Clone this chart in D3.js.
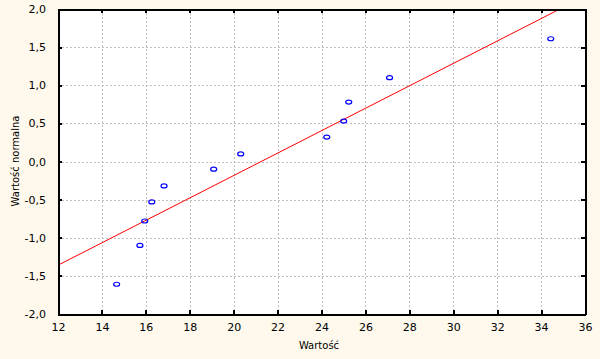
<!DOCTYPE html>
<html><head><meta charset="utf-8">
<script src="https://cdn.jsdelivr.net/npm/d3@7"></script>
<style>
html,body{margin:0;padding:0;background:#fef9ec;}
svg{display:block;}
text{font-family:"DejaVu Sans",sans-serif;fill:#000;}
</style></head>
<body>
<svg id="c" width="600" height="359"></svg>
<script>
const pointX = [14.67, 15.73, 15.95, 16.27, 16.83, 19.09, 20.32, 24.24, 25.01, 25.24, 27.10, 34.44];
const pointY = [-1.61, -1.10, -0.78, -0.53, -0.32, -0.10, 0.10, 0.32, 0.53, 0.78, 1.10, 1.61];
const lineX = [12, 34.86];
const lineY = [-1.36, 2.0];
const xTicks = [12,14,16,18,20,22,24,26,28,30,32,34,36];
const yTicks = [-2.0,-1.5,-1.0,-0.5,0.0,0.5,1.0,1.5,2.0];
const xTitle = "Wartość";
const yTitle = "Wartość normalna";

const svg = d3.select("#c");
const L=58, R=585, T=9, B=314;
const x = d3.scaleLinear().domain([12,36]).range([L,R]);
const y = d3.scaleLinear().domain([-2,2]).range([B,T]);
const fmt = d => d3.format(".1f")(d).replace(".", ",").replace("−","-");

svg.append("rect").attr("x",L).attr("y",T).attr("width",R-L).attr("height",B-T).attr("fill","#fff");

const grid = svg.append("g").attr("stroke","#c0c0c0").attr("stroke-dasharray","2,2").attr("shape-rendering","crispEdges");
xTicks.slice(1,-1).forEach(t=>grid.append("line").attr("x1",Math.round(x(t))+0.5).attr("x2",Math.round(x(t))+0.5).attr("y1",T).attr("y2",B));
yTicks.slice(1,-1).forEach(t=>grid.append("line").attr("y1",Math.round(y(t))+0.5).attr("y2",Math.round(y(t))+0.5).attr("x1",L).attr("x2",R));

const clip = svg.append("clipPath").attr("id","pc").append("rect").attr("x",L).attr("y",T).attr("width",R-L).attr("height",B-T);
svg.append("line").attr("clip-path","url(#pc)")
  .attr("x1",x(lineX[0])).attr("y1",y(lineY[0])).attr("x2",x(lineX[1])).attr("y2",y(lineY[1]))
  .attr("stroke","#ff0000").attr("stroke-width",1);

svg.append("g").selectAll("ellipse").data(pointX).join("ellipse")
  .attr("cx",(d,i)=>x(d)).attr("cy",(d,i)=>y(pointY[i]))
  .attr("rx",3).attr("ry",2).attr("fill","none").attr("stroke","#0000ff").attr("stroke-width",1.2);

// axes
const ax = svg.append("g").attr("shape-rendering","crispEdges");
ax.append("g").attr("transform",`translate(0,${B})`).call(d3.axisBottom(x).tickValues(xTicks).tickSizeInner(-4).tickSizeOuter(0).tickPadding(9).tickFormat(d3.format("d")));
ax.append("g").attr("transform",`translate(0,${T})`).call(d3.axisTop(x).tickValues(xTicks).tickSizeInner(-4).tickSizeOuter(0).tickFormat(""));
ax.append("g").attr("transform",`translate(${L},0)`).call(d3.axisLeft(y).tickValues(yTicks).tickSizeInner(-4).tickSizeOuter(0).tickPadding(12).tickFormat(fmt));
ax.append("g").attr("transform",`translate(${R},0)`).call(d3.axisRight(y).tickValues(yTicks).tickSizeInner(-4).tickSizeOuter(0).tickFormat(""));
svg.selectAll(".domain").attr("stroke","#000").attr("stroke-width",2);
svg.selectAll(".tick line").attr("stroke","#000").attr("stroke-width",2);
svg.selectAll(".tick text").attr("font-size",11).attr("font-family","DejaVu Sans, sans-serif").attr("fill","#000");

svg.append("text").attr("x",319).attr("y",349).attr("text-anchor","middle").attr("font-size",10).text(xTitle);
svg.append("text").attr("transform","translate(19,161) rotate(-90)").attr("text-anchor","middle").attr("font-size",10).text(yTitle);
</script>
</body></html>
